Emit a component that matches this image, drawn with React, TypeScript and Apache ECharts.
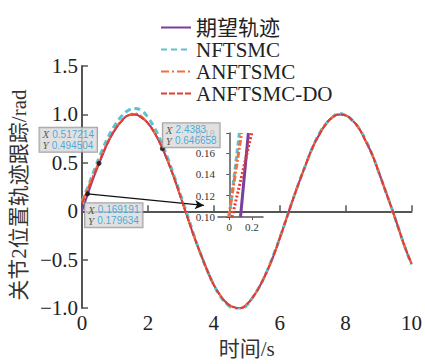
import React, { useEffect, useRef } from "react";
import * as echarts from "echarts";

const T = [0, 0.2, 0.4, 0.6, 0.8, 1.0, 1.2, 1.4, 1.6, 1.8, 2.0, 2.2, 2.4, 2.6, 2.8, 3.0, 3.2, 3.4, 3.6, 3.8, 4.0, 4.2, 4.4, 4.6, 4.8, 5.0, 5.2, 5.4, 5.6, 5.8, 6.0, 6.2, 6.4, 6.6, 6.8, 7.0, 7.2, 7.4, 7.6, 7.8, 8.0, 8.2, 8.4, 8.6, 8.8, 9.0, 9.2, 9.4, 9.6, 9.8, 10.0];

const desired = [0, 0.2, 0.39, 0.56, 0.72, 0.84, 0.93, 0.99, 1.0, 0.97, 0.91, 0.81, 0.68, 0.52, 0.34, 0.14, -0.06, -0.26, -0.44, -0.61, -0.76, -0.87, -0.95, -0.99, -1.0, -0.96, -0.88, -0.77, -0.63, -0.47, -0.28, -0.08, 0.12, 0.31, 0.49, 0.66, 0.79, 0.9, 0.97, 1.0, 0.99, 0.94, 0.86, 0.73, 0.59, 0.41, 0.22, 0.03, -0.17, -0.37, -0.54];

const nftsmc = [0.1, 0.27, 0.45, 0.62, 0.77, 0.89, 0.98, 1.04, 1.06, 1.04, 0.97, 0.86, 0.72, 0.55, 0.36, 0.16, -0.04, -0.25, -0.44, -0.61, -0.76, -0.88, -0.96, -1.0, -1.01, -0.97, -0.88, -0.77, -0.63, -0.46, -0.28, -0.08, 0.12, 0.31, 0.49, 0.66, 0.8, 0.9, 0.97, 1.01, 0.99, 0.94, 0.86, 0.74, 0.59, 0.41, 0.22, 0.03, -0.17, -0.37, -0.55];

const anftsmc = [0.1, 0.26, 0.42, 0.58, 0.73, 0.85, 0.94, 0.99, 1.01, 0.98, 0.91, 0.81, 0.68, 0.52, 0.34, 0.14, -0.06, -0.26, -0.44, -0.61, -0.76, -0.87, -0.95, -0.99, -1.0, -0.96, -0.88, -0.77, -0.63, -0.47, -0.28, -0.08, 0.12, 0.31, 0.49, 0.66, 0.79, 0.9, 0.97, 1.0, 0.99, 0.94, 0.86, 0.73, 0.59, 0.41, 0.22, 0.03, -0.17, -0.37, -0.54];

const anftsmcDo = [0.08, 0.23, 0.4, 0.57, 0.72, 0.84, 0.93, 0.99, 1.0, 0.97, 0.91, 0.81, 0.68, 0.52, 0.34, 0.14, -0.06, -0.26, -0.44, -0.61, -0.76, -0.87, -0.95, -0.99, -1.0, -0.96, -0.88, -0.77, -0.63, -0.47, -0.28, -0.08, 0.12, 0.31, 0.49, 0.66, 0.79, 0.9, 0.97, 1.0, 0.99, 0.94, 0.86, 0.73, 0.59, 0.41, 0.22, 0.03, -0.17, -0.37, -0.54];

// inset (zoomed start) segments: [t, value]
const insetDesired = [[0.1, 0.1], [0.17, 0.179]];
const insetNftsmc = [[0.0, 0.1], [0.09, 0.179]];
const insetAnftsmc = [[-0.005, 0.1], [0.11, 0.179]];
const insetAnftsmcDo = [[0.025, 0.1], [0.2, 0.179]];

const names = ["期望轨迹", "NFTSMC", "ANFTSMC", "ANFTSMC-DO"];
const colors = ["#7A3E9D", "#5BC3D0", "#F0703F", "#E63B2E"];

// annotated data points
const marks = [
  { x: 0.517214, y: 0.494504, off: [-57, -33] },
  { x: 2.4383, y: 0.646658, off: [3, -23] },
  { x: 0.169191, y: 0.179634, off: [0, 12] },
];
const arrowEnd = [3.7, 0.06];

const SERIF = "Times New Roman, Liberation Serif, Tinos, DejaVu Serif, Noto Sans CJK SC, serif";
const SANS = "Liberation Sans, Arial, sans-serif";

export default function App() {
  const ref = useRef<HTMLDivElement>(null);
  useEffect(() => {
    const chart = echarts.init(ref.current!, undefined, { renderer: "svg" });
    const mk = (arr: number[]) => T.map((t, i) => [t, arr[i]]);
    const lineStyles: any[] = [
      { color: colors[0], width: 2, type: "solid" },
      { color: colors[1], width: 3, type: [6, 4] },
      { color: colors[2], width: 2, type: [8, 3, 2, 3] },
      { color: colors[3], width: 2, type: [6, 2] },
    ];
    const insetStyles: any[] = [
      { color: colors[0], width: 3, type: "solid" },
      { color: colors[1], width: 3, type: [5, 3] },
      { color: colors[2], width: 3, type: [6, 2, 2, 2] },
      { color: colors[3], width: 3, type: [2, 2] },
    ];
    const mainData = [desired, nftsmc, anftsmc, anftsmcDo];
    const insetData = [insetDesired, insetNftsmc, insetAnftsmc, insetAnftsmcDo];
    const valFmt = (v: number) =>
      v === 0 ? "0" : (v < 0 ? "\u2212" : "") + Math.abs(v).toFixed(1);

    const option: any = {
      animation: false,
      backgroundColor: "#fff",
      textStyle: { fontFamily: SERIF },
      legend: {
        data: names,
        orient: "vertical",
        left: 155,
        top: 12,
        itemWidth: 30,
        itemHeight: 14,
        itemGap: 1,
        itemStyle: { opacity: 0, borderWidth: 0 },
        textStyle: { fontFamily: SERIF, fontSize: 21, color: "#222", lineHeight: 21 },
      },
      grid: [
        { left: 78, right: 12, top: 66, bottom: 47 },
        { left: 218, top: 133, width: 45, height: 84 },
      ],
      xAxis: [
        {
          type: "value",
          gridIndex: 0,
          min: 0,
          max: 10,
          interval: 2,
          name: "时间/s",
          nameLocation: "middle",
          nameGap: 29,
          nameTextStyle: { fontFamily: SERIF, fontSize: 21, color: "#333" },
          axisLine: { lineStyle: { color: "#555", width: 2 } },
          axisTick: { inside: true, length: 6, lineStyle: { color: "#555", width: 1.5 } },
          axisLabel: { fontFamily: SERIF, fontSize: 21, color: "#222", margin: 4 },
          splitLine: { show: false },
        },
        {
          type: "value",
          gridIndex: 1,
          min: -0.1,
          max: 0.3,
          interval: 0.1,
          axisLine: { lineStyle: { color: "#555", width: 1.5 } },
          axisTick: { length: 3, customValues: [0, 0.2], lineStyle: { color: "#555" } },
          axisLabel: {
            customValues: [0, 0.2],
            fontFamily: SERIF,
            fontSize: 11,
            color: "#333",
            margin: 4,
            formatter: (v: number) => (Math.abs(v) < 1e-9 ? "0" : Math.abs(v - 0.2) < 1e-9 ? "0.2" : ""),
          },
          splitLine: { show: false },
        },
      ],
      yAxis: [
        {
          type: "value",
          gridIndex: 0,
          min: -1,
          max: 1.5,
          interval: 0.5,
          name: "关节2位置轨迹跟踪/rad",
          nameLocation: "middle",
          nameGap: 40,
          nameTextStyle: { fontFamily: SERIF, fontSize: 21, color: "#333", padding: [0, 16, 0, 0] },
          axisLine: { lineStyle: { color: "#555", width: 2 } },
          axisTick: { inside: true, length: 6, lineStyle: { color: "#555", width: 1.5 } },
          axisLabel: { fontFamily: SERIF, fontSize: 21, color: "#222", margin: 4, formatter: valFmt },
          splitLine: { show: false },
        },
        {
          type: "value",
          gridIndex: 1,
          min: 0.1,
          max: 0.179,
          interval: 0.02,
          axisLine: { lineStyle: { color: "#555", width: 1.5 } },
          axisTick: { length: 3, lineStyle: { color: "#555" } },
          axisLabel: {
            fontFamily: SERIF,
            fontSize: 11,
            color: "#333",
            margin: 3,
            formatter: (v: number) => v.toFixed(2),
          },
          splitLine: { show: false },
        },
      ],
      series: [
        ...names.map((n, i) => ({
          name: n,
          type: "line",
          xAxisIndex: 0,
          yAxisIndex: 0,
          data: mk(mainData[i]),
          smooth: true,
          symbol: "none",
          lineStyle: lineStyles[i],
          itemStyle: { color: colors[i] },
          z: 2 + i,
        })),
        ...names.map((n, i) => ({
          name: "inset-" + n,
          type: "line",
          xAxisIndex: 1,
          yAxisIndex: 1,
          data: insetData[i],
          symbol: "none",
          clip: true,
          lineStyle: insetStyles[i],
          itemStyle: { color: colors[i] },
          z: 2 + i,
        })),
        {
          name: "marks",
          type: "scatter",
          xAxisIndex: 0,
          yAxisIndex: 0,
          symbolSize: 5,
          itemStyle: { color: "#111" },
          z: 10,
          data: marks.map((m) => ({
            value: [m.x, m.y],
            label: {
              show: true,
              position: m.off,
              align: "left",
              verticalAlign: "top",
              formatter: `{k|X} {v|${m.x}}\n{k|Y} {v|${m.y}}`,
              backgroundColor: "#D9D9D9",
              borderColor: "#8C8C8C",
              borderWidth: 1,
              padding: [1, 3, 1, 3],
              lineHeight: 11,
              rich: {
                k: { fontFamily: SERIF, fontStyle: "italic", fontSize: 11, color: "#333", lineHeight: 11 },
                v: { fontFamily: SANS, fontSize: 10, color: "#1E9BD7", lineHeight: 11 },
              },
            },
          })),
          markLine: {
            silent: true,
            symbol: ["none", "arrow"],
            symbolSize: [7, 9],
            label: { show: false },
            lineStyle: { color: "#111", width: 1.3, type: "solid" },
            data: [[{ coord: [marks[2].x, marks[2].y] }, { coord: arrowEnd }]],
          },
        },
      ],
    };
    chart.setOption(option);
    return () => chart.dispose();
  }, []);
  return (
    <div
      ref={ref}
      style={{ position: "fixed", left: 0, top: 0, width: 425, height: 364, background: "#fff" }}
    />
  );
}
